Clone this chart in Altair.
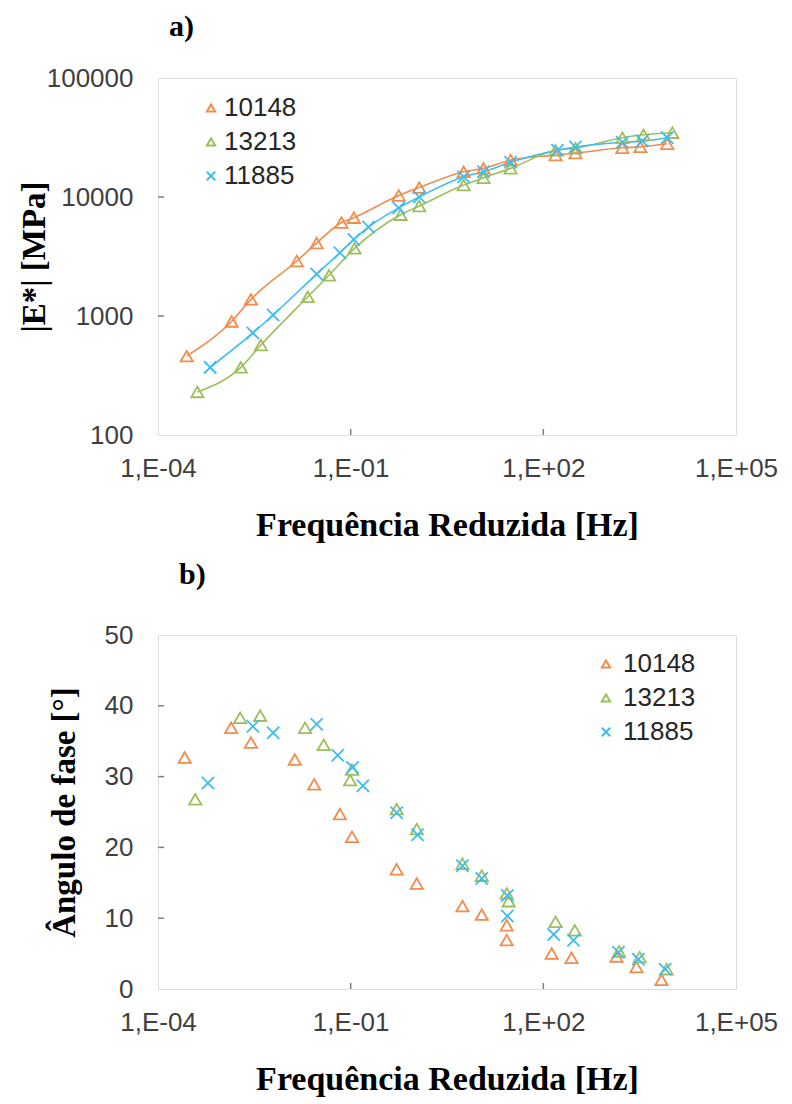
import altair as alt
import pandas as pd

series = ["10148", "13213", "11885"]
colors = ["#F28B4C", "#9DBE5C", "#3CBDEF"]
x_path = "M-1,-1L1,1M-1,1L1,-1"
shapes = ["triangle-up", "triangle-up", x_path]

# ---- panel a) |E*| [MPa]
a_f_10148 = [2.8e-4, 1.4e-3, 2.8e-3, 1.45e-2, 2.95e-2, 7.2e-2, 0.112, 0.56, 1.17, 5.75, 11.7, 30.9, 155, 316, 1700, 3240, 8500]
a_e_10148 = [460, 900, 1380, 2900, 4100, 6100, 6700, 10300, 12000, 16300, 17400, 20400, 22500, 23400, 25900, 26400, 28000]
a_f_13213 = [4.1e-4, 1.95e-3, 4.0e-3, 2.15e-2, 4.6e-2, 0.115, 0.60, 1.17, 5.75, 11.7, 30.9, 155, 316, 1700, 3630, 10200]
a_e_13213 = [230, 370, 570, 1450, 2200, 3700, 7100, 8400, 12600, 14500, 17400, 24700, 25700, 31500, 33300, 34700]
a_f_11885 = [6.5e-4, 3.0e-3, 6.2e-3, 2.95e-2, 6.8e-2, 0.112, 0.19, 0.56, 1.17, 5.75, 11.7, 30.9, 166, 316, 1700, 3470, 8500]
a_e_11885 = [370, 720, 1020, 2250, 3400, 4400, 5600, 8100, 10000, 14800, 16300, 19600, 24700, 26300, 28800, 29500, 31500]

# ---- panel b) phase angle [deg]
b_f_10148 = [2.6e-4, 1.38e-3, 2.8e-3, 1.35e-2, 2.7e-2, 6.8e-2, 0.105, 0.52, 1.07, 5.5, 11.0, 26.9, 26.9, 135, 275, 1380, 2820, 6900]
b_p_10148 = [32.7, 36.9, 34.8, 32.4, 28.9, 24.7, 21.5, 16.9, 14.9, 11.7, 10.5, 9.0, 6.9, 5.0, 4.4, 4.6, 3.1, 1.3]
b_f_13213 = [3.8e-4, 1.9e-3, 3.9e-3, 1.95e-2, 3.8e-2, 0.105, 0.098, 0.52, 1.07, 5.5, 11.0, 26.9, 28.8, 155, 309, 1510, 3160, 8300]
b_p_13213 = [26.8, 38.3, 38.6, 36.9, 34.5, 31.0, 29.5, 25.4, 22.6, 17.7, 16.0, 13.5, 12.4, 9.5, 8.3, 5.3, 4.5, 2.8]
b_f_11885 = [6.0e-4, 3.0e-3, 6.2e-3, 2.95e-2, 6.3e-2, 0.107, 0.155, 0.52, 1.1, 5.5, 11.0, 27.5, 27.5, 145, 295, 1480, 3020, 7900]
b_p_11885 = [29.1, 37.1, 36.2, 37.4, 33.0, 31.3, 28.7, 24.9, 21.8, 17.4, 15.6, 13.2, 10.3, 7.7, 6.9, 5.2, 4.2, 2.8]

x_ticks = [1e-4, 1e-1, 1e2, 1e5]
ya_ticks = [100, 1000, 10000, 100000]
yb_ticks = [0, 10, 20, 30, 40, 50]

W = 578
HA = 357
HB = 354
TICK = 6
AXIS_GRAY = "#808080"


def table(parts, vname):
    rows = []
    for s, fs, vs in parts:
        for i, (f, v) in enumerate(zip(fs, vs)):
            rows.append({"serie": s, "f": f, vname: v, "i": i})
    return pd.DataFrame(rows)


df_a = table([("10148", a_f_10148, a_e_10148), ("13213", a_f_13213, a_e_13213),
              ("11885", a_f_11885, a_e_11885)], "E")
df_b = table([("10148", b_f_10148, b_p_10148), ("13213", b_f_13213, b_p_13213),
              ("11885", b_f_11885, b_p_11885)], "phi")

SANS = "Liberation Sans"
SERIF = "Liberation Serif"
label_expr = ("'1,E' + (datum.value < 1 ? '-' : '+') + "
              "(abs(round(log(datum.value)/LN10)) < 10 ? '0' : '') + "
              "abs(round(log(datum.value)/LN10))")


def x_enc():
    return alt.X("f:Q", scale=alt.Scale(type="log", domain=[1e-4, 1e5], nice=False),
                 axis=alt.Axis(values=x_ticks, labelExpr=label_expr,
                               title="Frequência Reduzida [Hz]",
                               titleFont=SERIF, titleFontWeight="bold", titleFontSize=34,
                               titleColor="#000000", titlePadding=27,
                               labelFont=SANS, labelFontSize=26, labelColor="#404040",
                               labelPadding=20, ticks=False, domain=False, grid=False,
                               labelFlush=False))


color_scale = alt.Scale(domain=series, range=colors)
shape_scale = alt.Scale(domain=series, range=shapes)


def legend(x, y, off):
    return alt.Legend(orient="none", legendX=x, legendY=y, title=None, padding=0,
                      labelFont=SANS, labelFontSize=26, labelColor="#262626",
                      labelOffset=off, symbolSize=70, symbolStrokeWidth=2,
                      rowPadding=8)


leg_a = legend(40, 17, 0)
leg_b = legend(435, 16, 4)


def x_inner_ticks(h):
    return alt.Chart(pd.DataFrame({"f": x_ticks[1:-1]})).mark_rule(
        color=AXIS_GRAY, strokeWidth=1.5).encode(
        x=x_enc(), y=alt.value(h), y2=alt.value(h - TICK))


# panel a
ya = alt.Y("E:Q", scale=alt.Scale(type="log", domain=[100, 100000], nice=False),
           axis=alt.Axis(values=ya_ticks, format="d", title="|E*| [MPa]",
                         titleFont=SERIF, titleFontWeight="bold", titleFontSize=33,
                         titleColor="#000000", titlePadding=-5,
                         labelFont=SANS, labelFontSize=26, labelColor="#404040",
                         labelPadding=25, ticks=False, domain=False, grid=False))

ya_inner = alt.Chart(pd.DataFrame({"E": ya_ticks[1:-1]})).mark_rule(
    color=AXIS_GRAY, strokeWidth=1.5).encode(
    y=ya, x=alt.value(0), x2=alt.value(TICK))

lines_a = alt.Chart(df_a).mark_line(strokeWidth=1.6, interpolate="monotone").encode(
    x=x_enc(), y=ya,
    stroke=alt.Stroke("serie:N", scale=color_scale, legend=None),
    detail="serie:N", order="f:Q")

pts_a = alt.Chart(df_a).mark_point(filled=False, size=150, strokeWidth=1.8, opacity=1).encode(
    x=x_enc(), y=ya,
    color=alt.Color("serie:N", scale=color_scale, legend=leg_a),
    shape=alt.Shape("serie:N", scale=shape_scale, legend=leg_a))

chart_a = alt.layer(lines_a, pts_a, x_inner_ticks(HA), ya_inner).properties(
    width=W, height=HA,
    title=alt.TitleParams("a)", font=SERIF, fontWeight="bold", fontSize=30, color="#000000",
                          anchor="start", frame="group", dx=11, offset=23))

# panel b
yb = alt.Y("phi:Q", scale=alt.Scale(domain=[0, 50], nice=False),
           axis=alt.Axis(values=yb_ticks, title="Ângulo de fase [°]",
                         titleFont=SERIF, titleFontWeight="bold", titleFontSize=33,
                         titleColor="#000000", titlePadding=23,
                         labelFont=SANS, labelFontSize=26, labelColor="#404040",
                         labelPadding=25, ticks=False, domain=False, grid=False))

yb_inner = alt.Chart(pd.DataFrame({"phi": yb_ticks[1:-1]})).mark_rule(
    color=AXIS_GRAY, strokeWidth=1.5).encode(
    y=yb, x=alt.value(0), x2=alt.value(TICK))

pts_b = alt.Chart(df_b).mark_point(filled=False, size=150, strokeWidth=1.8, opacity=1).encode(
    x=x_enc(), y=yb,
    color=alt.Color("serie:N", scale=color_scale, legend=leg_b),
    shape=alt.Shape("serie:N", scale=shape_scale, legend=leg_b))

chart_b = alt.layer(pts_b, x_inner_ticks(HB), yb_inner).properties(
    width=W, height=HB,
    title=alt.TitleParams("b)", font=SERIF, fontWeight="bold", fontSize=30, color="#000000",
                          anchor="start", frame="group", dx=21, offset=32))

chart = alt.vconcat(chart_a, chart_b, spacing=16).resolve_scale(
    color="independent", shape="independent").resolve_legend(
    color="independent", shape="independent").properties(
    padding={"left": 9, "top": 3, "right": 5, "bottom": 0}).configure_view(
    stroke=AXIS_GRAY, strokeWidth=1.5).configure(background="white")

chart.save("out.html", embed_options={"renderer": "svg", "actions": False})
